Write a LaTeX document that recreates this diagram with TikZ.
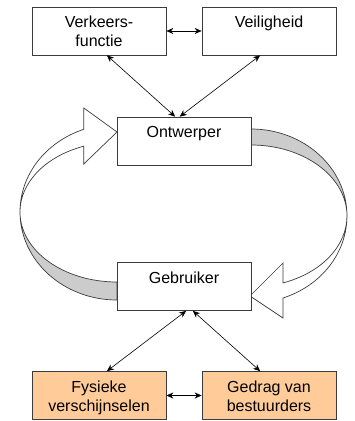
\documentclass[tikz,border=0pt]{standalone}
\usepackage{fontspec}
\setmainfont{Liberation Sans}
\usepackage{xcolor}
\usetikzlibrary{arrows.meta}
\definecolor{boxpeach}{RGB}{255, 204, 153}
\definecolor{ribbongray}{RGB}{204, 204, 204}
\definecolor{edgegray}{RGB}{60, 60, 60}

\newcommand{\boxlines}[1]{\parbox[c][30pt][t]{130pt}{\centering #1}}

\begin{document}
\begin{tikzpicture}[x=1pt, y=1pt,
    font=\fontsize{16}{19}\selectfont,
    blok/.style={draw=edgegray, fill=white, line width=0.7pt,
        minimum width=134pt, minimum height=48pt, inner sep=0pt},
    oranjeblok/.style={blok, fill=boxpeach},
    pijl/.style={{Stealth[length=7pt, width=6pt]}-{Stealth[length=7pt, width=6pt]},
        line width=0.6pt},
    lint/.style={draw=edgegray, line width=0.7pt, line join=miter}]
    \useasboundingbox (0,0) rectangle (354,421);

    % Left loop arrow (Gebruiker -> Ontwerper)
    \draw[lint, fill=ribbongray] (20,209)
        arc[start angle=180, end angle=270, x radius=97, y radius=88]
        -- (117,139)
        arc[start angle=270, end angle=180, x radius=97, y radius=70] -- cycle;
    \draw[lint, fill=white] (83.8,291.7)
        arc[start angle=110, end angle=180, x radius=97, y radius=88]
        arc[start angle=180, end angle=110, x radius=97, y radius=70]
        -- (83.8,257) -- (117,289) -- (83.8,313) -- cycle;

    % Right loop arrow (Ontwerper -> Gebruiker)
    \draw[lint, fill=ribbongray] (347,205)
        arc[start angle=0, end angle=90, x radius=96, y radius=87]
        -- (251,276)
        arc[start angle=90, end angle=0, x radius=96, y radius=71] -- cycle;
    \draw[lint, fill=white] (283,123)
        arc[start angle=-70.5, end angle=0, x radius=96, y radius=87]
        arc[start angle=0, end angle=-70.5, x radius=96, y radius=71]
        -- (283,158) -- (250,125) -- (283,103) -- cycle;

    % Boxes
    \node[blok] (verkeer) at (99,390) {\boxlines{Verkeers-\\functie}};
    \node[blok] (veilig) at (269,390) {\boxlines{Veiligheid}};
    \node[blok] (ontwerper) at (184,280) {\boxlines{Ontwerper}};
    \node[blok] (gebruiker) at (184,134.5) {\boxlines{Gebruiker}};
    \node[oranjeblok] (fysiek) at (99,25.5) {\boxlines{Fysieke\\verschijnselen}};
    \node[oranjeblok] (gedrag) at (269,25.5) {\boxlines{Gedrag van\\bestuurders}};

    % Double arrows
    \draw[pijl] (verkeer.east) -- (veilig.west);
    \draw[pijl] (verkeer.-72) -- (ontwerper.110);
    \draw[pijl] (veilig.-110) -- (ontwerper.100);
    \draw[pijl] (gebruiker.-85) -- (fysiek.72);
    \draw[pijl] (gebruiker.-70) -- (gedrag.110);
    \draw[pijl] (fysiek.east) -- (gedrag.west);
\end{tikzpicture}
\end{document}
